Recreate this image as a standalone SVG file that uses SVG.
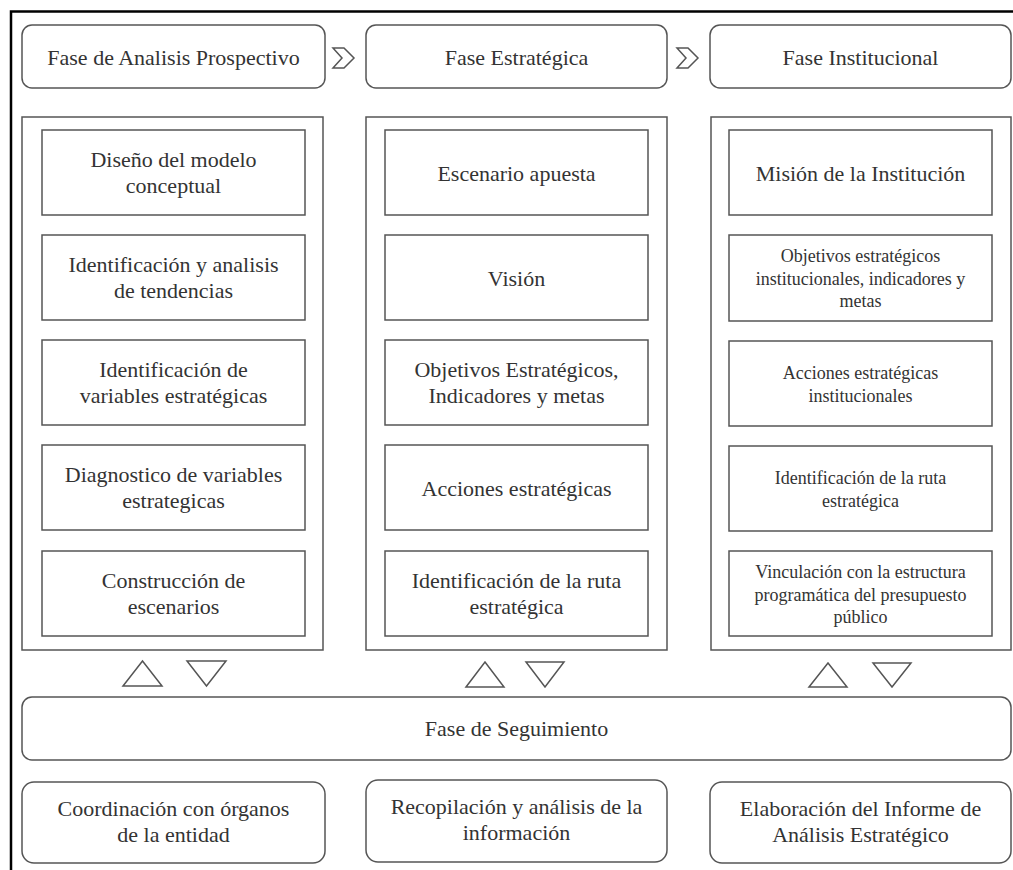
<svg xmlns="http://www.w3.org/2000/svg" width="1013" height="870" viewBox="0 0 1013 870">
<style>
.b{fill:#fff;stroke:#555;stroke-width:1.5}
.t{font-family:"Liberation Serif","Times New Roman",serif;font-size:22px;fill:#333;text-anchor:middle}
.s{font-size:18px}
.tri{fill:none;stroke:#555;stroke-width:1.5;stroke-linejoin:miter}
</style>
<rect width="1013" height="870" fill="#fff"/>
<path d="M11,870 V11.5 H1013" fill="none" stroke="#000" stroke-width="2.5"/>

<g id="h1"><rect class="b" x="22" y="25" width="303" height="63" rx="10"/><text class="t" x="173.5" y="64.5">Fase de Analisis Prospectivo</text></g>
<g id="h2"><rect class="b" x="366" y="25" width="301" height="63" rx="10"/><text class="t" x="516.5" y="64.5">Fase Estratégica</text></g>
<g id="h3"><rect class="b" x="710" y="25" width="301" height="63" rx="10"/><text class="t" x="860.5" y="64.5">Fase Institucional</text></g>

<g id="c1"><rect class="b" x="22" y="117" width="301" height="533"/></g>
<g id="c2"><rect class="b" x="366" y="117" width="301" height="533"/></g>
<g id="c3"><rect class="b" x="711" y="117" width="300" height="533"/></g>

<g id="l1"><rect class="b" x="42" y="130" width="263" height="85"/><text class="t" x="173.5" y="166.5">Diseño del modelo<tspan x="173.5" dy="26">conceptual</tspan></text></g>
<g id="l2"><rect class="b" x="42" y="235" width="263" height="85"/><text class="t" x="173.5" y="271.5">Identificación y analisis<tspan x="173.5" dy="26">de tendencias</tspan></text></g>
<g id="l3"><rect class="b" x="42" y="340" width="263" height="85"/><text class="t" x="173.5" y="376.5">Identificación de<tspan x="173.5" dy="26">variables estratégicas</tspan></text></g>
<g id="l4"><rect class="b" x="42" y="445" width="263" height="85"/><text class="t" x="173.5" y="481.5">Diagnostico de variables<tspan x="173.5" dy="26">estrategicas</tspan></text></g>
<g id="l5"><rect class="b" x="42" y="551" width="263" height="85"/><text class="t" x="173.5" y="587.5">Construcción de<tspan x="173.5" dy="26">escenarios</tspan></text></g>

<g id="m1"><rect class="b" x="385" y="130" width="263" height="85"/><text class="t" x="516.5" y="180.5">Escenario apuesta</text></g>
<g id="m2"><rect class="b" x="385" y="235" width="263" height="85"/><text class="t" x="516.5" y="285.5">Visión</text></g>
<g id="m3"><rect class="b" x="385" y="340" width="263" height="85"/><text class="t" x="516.5" y="376.5">Objetivos Estratégicos,<tspan x="516.5" dy="26">Indicadores y metas</tspan></text></g>
<g id="m4"><rect class="b" x="385" y="445" width="263" height="85"/><text class="t" x="516.5" y="495.5">Acciones estratégicas</text></g>
<g id="m5"><rect class="b" x="385" y="551" width="263" height="85"/><text class="t" x="516.5" y="587.5">Identificación de la ruta<tspan x="516.5" dy="26">estratégica</tspan></text></g>

<g id="r1"><rect class="b" x="729" y="130" width="263" height="85"/><text class="t" x="860.5" y="180.5">Misión de la Institución</text></g>
<g id="r2"><rect class="b" x="729" y="235" width="263" height="86"/><text class="t s" x="860.5" y="262">Objetivos estratégicos<tspan x="860.5" dy="22.5">institucionales, indicadores y</tspan><tspan x="860.5" dy="22.5">metas</tspan></text></g>
<g id="r3"><rect class="b" x="729" y="341" width="263" height="85"/><text class="t s" x="860.5" y="379">Acciones estratégicas<tspan x="860.5" dy="23">institucionales</tspan></text></g>
<g id="r4"><rect class="b" x="729" y="446" width="263" height="85"/><text class="t s" x="860.5" y="484">Identificación de la ruta<tspan x="860.5" dy="23">estratégica</tspan></text></g>
<g id="r5"><rect class="b" x="729" y="551" width="263" height="85"/><text class="t s" x="860.5" y="578">Vinculación con la estructura<tspan x="860.5" dy="22.5">programática del presupuesto</tspan><tspan x="860.5" dy="22.5">público</tspan></text></g>

<g id="seg"><rect class="b" x="22" y="697" width="989" height="63" rx="10"/><text class="t" x="516.5" y="736">Fase de Seguimiento</text></g>

<g id="b1"><rect class="b" x="22" y="782" width="303" height="81" rx="12"/><text class="t" x="173.5" y="816">Coordinación con órganos<tspan x="173.5" dy="26">de la entidad</tspan></text></g>
<g id="b2"><rect class="b" x="366" y="780" width="301" height="82" rx="12"/><text class="t" x="516.5" y="814">Recopilación y análisis de la<tspan x="516.5" dy="26">información</tspan></text></g>
<g id="b3"><rect class="b" x="710" y="782" width="301" height="81" rx="12"/><text class="t" x="860.5" y="816">Elaboración del Informe de<tspan x="860.5" dy="26">Análisis Estratégico</tspan></text></g>

<g id="connectors">
<polygon class="tri" points="333,48 344,48 354,58 344,68 333,68 342,58"/>
<polygon class="tri" points="677,48 688,48 698,58 688,68 677,68 686,58"/>
<polygon class="tri" points="123,686 142.5,661 162,686"/>
<polygon class="tri" points="187,661 226,661 206.5,686"/>
<polygon class="tri" points="466,687 485,662 504,687"/>
<polygon class="tri" points="526,662 564,662 545,687"/>
<polygon class="tri" points="809,687 828,663 847,687"/>
<polygon class="tri" points="873,663 911,663 892,687"/>
</g>
</svg>
